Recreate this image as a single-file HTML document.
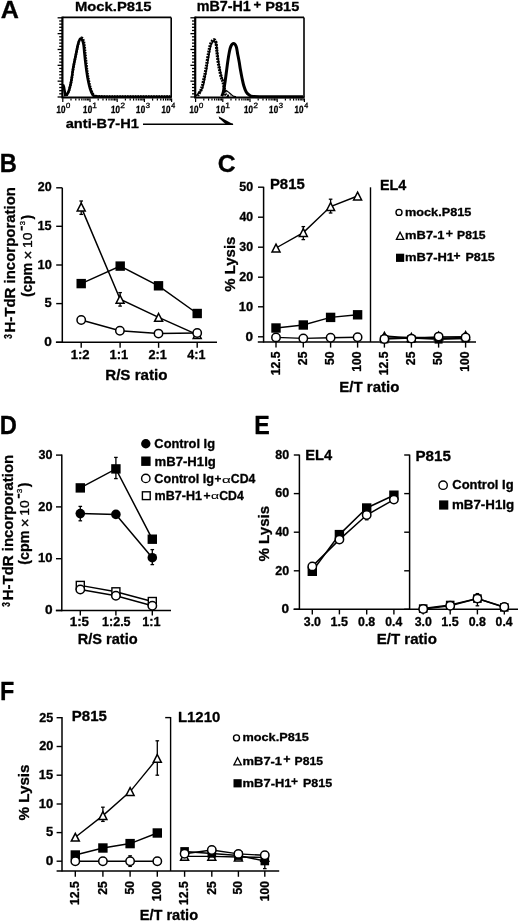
<!DOCTYPE html>
<html><head><meta charset="utf-8"><title>Figure</title>
<style>
html,body{margin:0;padding:0;background:#fff;}
body{width:520px;height:923px;overflow:hidden;}
svg{display:block;filter:grayscale(1);}
text{font-family:"Liberation Sans",sans-serif;fill:#000;stroke:#000;stroke-width:0.3px;stroke-linejoin:round;}
</style></head>
<body>
<svg width="520" height="923" viewBox="0 0 520 923">
<rect x="0" y="0" width="520" height="923" fill="#fff"/>
<g stroke="#000" fill="none" stroke-linecap="butt">
<text transform="translate(0.65,18.35) scale(1.0118,1)" font-size="24.85" font-weight="bold">A</text>
<text transform="translate(74.97,11.12) scale(1.1153,1)" font-size="13.27" font-weight="bold">Mock.P815</text>
<text transform="translate(196.72,11.25) scale(1.0283,1)" font-size="13.95" font-weight="bold">mB7-H1</text>
<line x1="253.90" y1="4.65" x2="260.80" y2="4.65" stroke-width="1.8"/>
<line x1="257.35" y1="1.50" x2="257.35" y2="7.80" stroke-width="1.8"/>
<text transform="translate(265.19,11.11) scale(1.0757,1)" font-size="13.56" font-weight="bold">P815</text>
<line x1="62.40" y1="17.40" x2="171.20" y2="17.40" stroke-width="1.6"/>
<line x1="171.20" y1="17.40" x2="171.20" y2="97.50" stroke-width="1.6"/>
<line x1="62.40" y1="16.60" x2="62.40" y2="98.40" stroke-width="2.2"/>
<line x1="61.90" y1="97.50" x2="171.70" y2="97.50" stroke-width="2.2"/>
<line x1="57.60" y1="17.80" x2="62.40" y2="17.80" stroke-width="1.3"/>
<line x1="59.20" y1="20.97" x2="62.40" y2="20.97" stroke-width="1.3"/>
<line x1="59.20" y1="24.14" x2="62.40" y2="24.14" stroke-width="1.3"/>
<line x1="59.20" y1="27.30" x2="62.40" y2="27.30" stroke-width="1.3"/>
<line x1="59.20" y1="30.47" x2="62.40" y2="30.47" stroke-width="1.3"/>
<line x1="57.60" y1="33.64" x2="62.40" y2="33.64" stroke-width="1.3"/>
<line x1="59.20" y1="36.81" x2="62.40" y2="36.81" stroke-width="1.3"/>
<line x1="59.20" y1="39.98" x2="62.40" y2="39.98" stroke-width="1.3"/>
<line x1="59.20" y1="43.14" x2="62.40" y2="43.14" stroke-width="1.3"/>
<line x1="59.20" y1="46.31" x2="62.40" y2="46.31" stroke-width="1.3"/>
<line x1="57.60" y1="49.48" x2="62.40" y2="49.48" stroke-width="1.3"/>
<line x1="59.20" y1="52.65" x2="62.40" y2="52.65" stroke-width="1.3"/>
<line x1="59.20" y1="55.82" x2="62.40" y2="55.82" stroke-width="1.3"/>
<line x1="59.20" y1="58.98" x2="62.40" y2="58.98" stroke-width="1.3"/>
<line x1="59.20" y1="62.15" x2="62.40" y2="62.15" stroke-width="1.3"/>
<line x1="57.60" y1="65.32" x2="62.40" y2="65.32" stroke-width="1.3"/>
<line x1="59.20" y1="68.49" x2="62.40" y2="68.49" stroke-width="1.3"/>
<line x1="59.20" y1="71.66" x2="62.40" y2="71.66" stroke-width="1.3"/>
<line x1="59.20" y1="74.82" x2="62.40" y2="74.82" stroke-width="1.3"/>
<line x1="59.20" y1="77.99" x2="62.40" y2="77.99" stroke-width="1.3"/>
<line x1="57.60" y1="81.16" x2="62.40" y2="81.16" stroke-width="1.3"/>
<line x1="59.20" y1="84.33" x2="62.40" y2="84.33" stroke-width="1.3"/>
<line x1="59.20" y1="87.50" x2="62.40" y2="87.50" stroke-width="1.3"/>
<line x1="59.20" y1="90.66" x2="62.40" y2="90.66" stroke-width="1.3"/>
<line x1="59.20" y1="93.83" x2="62.40" y2="93.83" stroke-width="1.3"/>
<line x1="57.60" y1="97.00" x2="62.40" y2="97.00" stroke-width="1.3"/>
<line x1="62.80" y1="98.40" x2="62.80" y2="101.90" stroke-width="1.2"/>
<line x1="70.99" y1="98.40" x2="70.99" y2="100.60" stroke-width="1.2"/>
<line x1="75.78" y1="98.40" x2="75.78" y2="100.60" stroke-width="1.2"/>
<line x1="79.18" y1="98.40" x2="79.18" y2="100.60" stroke-width="1.2"/>
<line x1="81.81" y1="98.40" x2="81.81" y2="100.60" stroke-width="1.2"/>
<line x1="83.97" y1="98.40" x2="83.97" y2="100.60" stroke-width="1.2"/>
<line x1="85.79" y1="98.40" x2="85.79" y2="100.60" stroke-width="1.2"/>
<line x1="87.36" y1="98.40" x2="87.36" y2="100.60" stroke-width="1.2"/>
<line x1="88.76" y1="98.40" x2="88.76" y2="100.60" stroke-width="1.2"/>
<line x1="90.00" y1="98.40" x2="90.00" y2="101.90" stroke-width="1.2"/>
<line x1="98.19" y1="98.40" x2="98.19" y2="100.60" stroke-width="1.2"/>
<line x1="102.98" y1="98.40" x2="102.98" y2="100.60" stroke-width="1.2"/>
<line x1="106.38" y1="98.40" x2="106.38" y2="100.60" stroke-width="1.2"/>
<line x1="109.01" y1="98.40" x2="109.01" y2="100.60" stroke-width="1.2"/>
<line x1="111.17" y1="98.40" x2="111.17" y2="100.60" stroke-width="1.2"/>
<line x1="112.99" y1="98.40" x2="112.99" y2="100.60" stroke-width="1.2"/>
<line x1="114.56" y1="98.40" x2="114.56" y2="100.60" stroke-width="1.2"/>
<line x1="115.96" y1="98.40" x2="115.96" y2="100.60" stroke-width="1.2"/>
<line x1="117.20" y1="98.40" x2="117.20" y2="101.90" stroke-width="1.2"/>
<line x1="125.39" y1="98.40" x2="125.39" y2="100.60" stroke-width="1.2"/>
<line x1="130.18" y1="98.40" x2="130.18" y2="100.60" stroke-width="1.2"/>
<line x1="133.58" y1="98.40" x2="133.58" y2="100.60" stroke-width="1.2"/>
<line x1="136.21" y1="98.40" x2="136.21" y2="100.60" stroke-width="1.2"/>
<line x1="138.37" y1="98.40" x2="138.37" y2="100.60" stroke-width="1.2"/>
<line x1="140.19" y1="98.40" x2="140.19" y2="100.60" stroke-width="1.2"/>
<line x1="141.76" y1="98.40" x2="141.76" y2="100.60" stroke-width="1.2"/>
<line x1="143.16" y1="98.40" x2="143.16" y2="100.60" stroke-width="1.2"/>
<line x1="144.40" y1="98.40" x2="144.40" y2="101.90" stroke-width="1.2"/>
<line x1="152.59" y1="98.40" x2="152.59" y2="100.60" stroke-width="1.2"/>
<line x1="157.38" y1="98.40" x2="157.38" y2="100.60" stroke-width="1.2"/>
<line x1="160.78" y1="98.40" x2="160.78" y2="100.60" stroke-width="1.2"/>
<line x1="163.41" y1="98.40" x2="163.41" y2="100.60" stroke-width="1.2"/>
<line x1="165.57" y1="98.40" x2="165.57" y2="100.60" stroke-width="1.2"/>
<line x1="167.39" y1="98.40" x2="167.39" y2="100.60" stroke-width="1.2"/>
<line x1="168.96" y1="98.40" x2="168.96" y2="100.60" stroke-width="1.2"/>
<line x1="170.36" y1="98.40" x2="170.36" y2="100.60" stroke-width="1.2"/>
<line x1="171.60" y1="98.40" x2="171.60" y2="101.90" stroke-width="1.2"/>
<text transform="translate(56.24,113.35) skewX(-3) scale(0.7862,1)" font-size="10.45" font-weight="bold">10</text>
<text transform="translate(65.84,108.18) skewX(-3) scale(1.0598,1)" font-size="7.49" font-weight="normal">0</text>
<text transform="translate(82.84,113.35) skewX(-3) scale(0.7862,1)" font-size="10.45" font-weight="bold">10</text>
<text transform="translate(92.08,108.25) skewX(-3) scale(1.1419,1)" font-size="7.70" font-weight="normal">1</text>
<text transform="translate(110.64,113.35) skewX(-3) scale(0.7862,1)" font-size="10.45" font-weight="bold">10</text>
<text transform="translate(120.13,108.25) skewX(-3) scale(1.0975,1)" font-size="7.59" font-weight="normal">2</text>
<text transform="translate(135.84,113.35) skewX(-3) scale(0.7862,1)" font-size="10.45" font-weight="bold">10</text>
<text transform="translate(145.45,108.18) skewX(-3) scale(1.0687,1)" font-size="7.49" font-weight="normal">3</text>
<text transform="translate(161.14,113.35) skewX(-3) scale(0.7862,1)" font-size="10.45" font-weight="bold">10</text>
<text transform="translate(170.88,108.25) skewX(-3) scale(0.9768,1)" font-size="7.70" font-weight="normal">4</text>
<line x1="195.20" y1="17.40" x2="304.00" y2="17.40" stroke-width="1.6"/>
<line x1="304.00" y1="17.40" x2="304.00" y2="97.50" stroke-width="1.6"/>
<line x1="195.20" y1="16.60" x2="195.20" y2="98.40" stroke-width="2.2"/>
<line x1="194.70" y1="97.50" x2="304.50" y2="97.50" stroke-width="2.2"/>
<line x1="190.40" y1="17.80" x2="195.20" y2="17.80" stroke-width="1.3"/>
<line x1="192.00" y1="20.97" x2="195.20" y2="20.97" stroke-width="1.3"/>
<line x1="192.00" y1="24.14" x2="195.20" y2="24.14" stroke-width="1.3"/>
<line x1="192.00" y1="27.30" x2="195.20" y2="27.30" stroke-width="1.3"/>
<line x1="192.00" y1="30.47" x2="195.20" y2="30.47" stroke-width="1.3"/>
<line x1="190.40" y1="33.64" x2="195.20" y2="33.64" stroke-width="1.3"/>
<line x1="192.00" y1="36.81" x2="195.20" y2="36.81" stroke-width="1.3"/>
<line x1="192.00" y1="39.98" x2="195.20" y2="39.98" stroke-width="1.3"/>
<line x1="192.00" y1="43.14" x2="195.20" y2="43.14" stroke-width="1.3"/>
<line x1="192.00" y1="46.31" x2="195.20" y2="46.31" stroke-width="1.3"/>
<line x1="190.40" y1="49.48" x2="195.20" y2="49.48" stroke-width="1.3"/>
<line x1="192.00" y1="52.65" x2="195.20" y2="52.65" stroke-width="1.3"/>
<line x1="192.00" y1="55.82" x2="195.20" y2="55.82" stroke-width="1.3"/>
<line x1="192.00" y1="58.98" x2="195.20" y2="58.98" stroke-width="1.3"/>
<line x1="192.00" y1="62.15" x2="195.20" y2="62.15" stroke-width="1.3"/>
<line x1="190.40" y1="65.32" x2="195.20" y2="65.32" stroke-width="1.3"/>
<line x1="192.00" y1="68.49" x2="195.20" y2="68.49" stroke-width="1.3"/>
<line x1="192.00" y1="71.66" x2="195.20" y2="71.66" stroke-width="1.3"/>
<line x1="192.00" y1="74.82" x2="195.20" y2="74.82" stroke-width="1.3"/>
<line x1="192.00" y1="77.99" x2="195.20" y2="77.99" stroke-width="1.3"/>
<line x1="190.40" y1="81.16" x2="195.20" y2="81.16" stroke-width="1.3"/>
<line x1="192.00" y1="84.33" x2="195.20" y2="84.33" stroke-width="1.3"/>
<line x1="192.00" y1="87.50" x2="195.20" y2="87.50" stroke-width="1.3"/>
<line x1="192.00" y1="90.66" x2="195.20" y2="90.66" stroke-width="1.3"/>
<line x1="192.00" y1="93.83" x2="195.20" y2="93.83" stroke-width="1.3"/>
<line x1="190.40" y1="97.00" x2="195.20" y2="97.00" stroke-width="1.3"/>
<line x1="195.60" y1="98.40" x2="195.60" y2="101.90" stroke-width="1.2"/>
<line x1="203.79" y1="98.40" x2="203.79" y2="100.60" stroke-width="1.2"/>
<line x1="208.58" y1="98.40" x2="208.58" y2="100.60" stroke-width="1.2"/>
<line x1="211.98" y1="98.40" x2="211.98" y2="100.60" stroke-width="1.2"/>
<line x1="214.61" y1="98.40" x2="214.61" y2="100.60" stroke-width="1.2"/>
<line x1="216.77" y1="98.40" x2="216.77" y2="100.60" stroke-width="1.2"/>
<line x1="218.59" y1="98.40" x2="218.59" y2="100.60" stroke-width="1.2"/>
<line x1="220.16" y1="98.40" x2="220.16" y2="100.60" stroke-width="1.2"/>
<line x1="221.56" y1="98.40" x2="221.56" y2="100.60" stroke-width="1.2"/>
<line x1="222.80" y1="98.40" x2="222.80" y2="101.90" stroke-width="1.2"/>
<line x1="230.99" y1="98.40" x2="230.99" y2="100.60" stroke-width="1.2"/>
<line x1="235.78" y1="98.40" x2="235.78" y2="100.60" stroke-width="1.2"/>
<line x1="239.18" y1="98.40" x2="239.18" y2="100.60" stroke-width="1.2"/>
<line x1="241.81" y1="98.40" x2="241.81" y2="100.60" stroke-width="1.2"/>
<line x1="243.97" y1="98.40" x2="243.97" y2="100.60" stroke-width="1.2"/>
<line x1="245.79" y1="98.40" x2="245.79" y2="100.60" stroke-width="1.2"/>
<line x1="247.36" y1="98.40" x2="247.36" y2="100.60" stroke-width="1.2"/>
<line x1="248.76" y1="98.40" x2="248.76" y2="100.60" stroke-width="1.2"/>
<line x1="250.00" y1="98.40" x2="250.00" y2="101.90" stroke-width="1.2"/>
<line x1="258.19" y1="98.40" x2="258.19" y2="100.60" stroke-width="1.2"/>
<line x1="262.98" y1="98.40" x2="262.98" y2="100.60" stroke-width="1.2"/>
<line x1="266.38" y1="98.40" x2="266.38" y2="100.60" stroke-width="1.2"/>
<line x1="269.01" y1="98.40" x2="269.01" y2="100.60" stroke-width="1.2"/>
<line x1="271.17" y1="98.40" x2="271.17" y2="100.60" stroke-width="1.2"/>
<line x1="272.99" y1="98.40" x2="272.99" y2="100.60" stroke-width="1.2"/>
<line x1="274.56" y1="98.40" x2="274.56" y2="100.60" stroke-width="1.2"/>
<line x1="275.96" y1="98.40" x2="275.96" y2="100.60" stroke-width="1.2"/>
<line x1="277.20" y1="98.40" x2="277.20" y2="101.90" stroke-width="1.2"/>
<line x1="285.39" y1="98.40" x2="285.39" y2="100.60" stroke-width="1.2"/>
<line x1="290.18" y1="98.40" x2="290.18" y2="100.60" stroke-width="1.2"/>
<line x1="293.58" y1="98.40" x2="293.58" y2="100.60" stroke-width="1.2"/>
<line x1="296.21" y1="98.40" x2="296.21" y2="100.60" stroke-width="1.2"/>
<line x1="298.37" y1="98.40" x2="298.37" y2="100.60" stroke-width="1.2"/>
<line x1="300.19" y1="98.40" x2="300.19" y2="100.60" stroke-width="1.2"/>
<line x1="301.76" y1="98.40" x2="301.76" y2="100.60" stroke-width="1.2"/>
<line x1="303.16" y1="98.40" x2="303.16" y2="100.60" stroke-width="1.2"/>
<line x1="304.40" y1="98.40" x2="304.40" y2="101.90" stroke-width="1.2"/>
<text transform="translate(189.24,113.35) skewX(-3) scale(0.7862,1)" font-size="10.45" font-weight="bold">10</text>
<text transform="translate(198.84,108.18) skewX(-3) scale(1.0598,1)" font-size="7.49" font-weight="normal">0</text>
<text transform="translate(215.84,113.35) skewX(-3) scale(0.7862,1)" font-size="10.45" font-weight="bold">10</text>
<text transform="translate(225.08,108.25) skewX(-3) scale(1.1419,1)" font-size="7.70" font-weight="normal">1</text>
<text transform="translate(243.64,113.35) skewX(-3) scale(0.7862,1)" font-size="10.45" font-weight="bold">10</text>
<text transform="translate(253.13,108.25) skewX(-3) scale(1.0975,1)" font-size="7.59" font-weight="normal">2</text>
<text transform="translate(268.84,113.35) skewX(-3) scale(0.7862,1)" font-size="10.45" font-weight="bold">10</text>
<text transform="translate(278.45,108.18) skewX(-3) scale(1.0687,1)" font-size="7.49" font-weight="normal">3</text>
<text transform="translate(294.14,113.35) skewX(-3) scale(0.7862,1)" font-size="10.45" font-weight="bold">10</text>
<text transform="translate(303.88,108.25) skewX(-3) scale(0.9768,1)" font-size="7.70" font-weight="normal">4</text>
<text transform="translate(65.73,127.92) scale(1.0968,1)" font-size="13.33" font-weight="bold">anti-B7-H1</text>
<line x1="143.00" y1="124.20" x2="233.00" y2="124.20" stroke-width="1.5"/>
<polygon points="218.6,116.2 233.6,124.6 226.0,124.4 219.2,118.2" stroke="none" fill="#000"/>
<path d="M62.80,84.50 C62.97,84.83 63.43,85.08 63.80,86.50 C64.17,87.92 64.57,91.58 65.00,93.00 C65.43,94.42 65.80,95.25 66.40,95.00 C67.00,94.75 67.97,93.00 68.60,91.50 C69.23,90.00 69.70,88.08 70.20,86.00 C70.70,83.92 71.12,81.92 71.60,79.00 C72.08,76.08 72.60,71.53 73.10,68.50 C73.60,65.47 74.08,63.38 74.60,60.80 C75.12,58.22 75.73,55.30 76.20,53.00 C76.67,50.70 76.97,48.90 77.40,47.00 C77.83,45.10 78.27,43.00 78.80,41.60 C79.33,40.20 80.00,38.80 80.60,38.60 C81.20,38.40 81.90,39.33 82.40,40.40 C82.90,41.47 83.27,42.90 83.60,45.00 C83.93,47.10 84.10,50.12 84.40,53.00 C84.70,55.88 85.03,59.22 85.40,62.30 C85.77,65.38 86.17,68.55 86.60,71.50 C87.03,74.45 87.43,77.17 88.00,80.00 C88.57,82.83 89.23,86.07 90.00,88.50 C90.77,90.93 91.60,93.28 92.60,94.60 C93.60,95.92 93.10,96.03 96.00,96.40 C98.90,96.77 102.67,96.73 110.00,96.80 C117.33,96.87 129.83,96.80 140.00,96.80 C150.17,96.80 165.83,96.80 171.00,96.80" fill="none" stroke-width="2.6"/>
<path d="M64.00,95.00 C64.40,95.07 65.60,96.07 66.40,95.40 C67.20,94.73 68.13,92.65 68.80,91.00 C69.47,89.35 69.90,87.58 70.40,85.50 C70.90,83.42 71.32,81.42 71.80,78.50 C72.28,75.58 72.80,71.05 73.30,68.00 C73.80,64.95 74.28,62.80 74.80,60.20 C75.32,57.60 75.92,54.70 76.40,52.40 C76.88,50.10 77.23,48.30 77.70,46.40 C78.17,44.50 78.58,42.43 79.20,41.00 C79.82,39.57 80.73,38.00 81.40,37.80 C82.07,37.60 82.70,38.67 83.20,39.80 C83.70,40.93 84.07,42.47 84.40,44.60 C84.73,46.73 84.90,49.70 85.20,52.60 C85.50,55.50 85.87,58.93 86.20,62.00 C86.53,65.07 86.80,68.07 87.20,71.00 C87.60,73.93 88.03,76.73 88.60,79.60 C89.17,82.47 89.80,85.70 90.60,88.20 C91.40,90.70 92.33,93.27 93.40,94.60 C94.47,95.93 92.57,95.87 97.00,96.20 C101.43,96.53 107.83,96.53 120.00,96.60 C132.17,96.67 161.67,96.60 170.00,96.60" fill="none" stroke-width="2.6" stroke-dasharray="1.6 1.0"/>
<path d="M197.60,95.80 C198.25,94.63 200.47,91.50 201.50,88.80 C202.53,86.10 203.10,82.67 203.80,79.60 C204.50,76.53 205.13,73.47 205.70,70.40 C206.27,67.33 206.68,64.28 207.20,61.20 C207.72,58.12 208.28,54.60 208.80,51.90 C209.32,49.20 209.73,46.78 210.30,45.00 C210.87,43.22 211.55,42.07 212.20,41.20 C212.85,40.33 213.57,39.55 214.20,39.80 C214.83,40.05 215.57,40.93 216.00,42.70 C216.43,44.47 216.53,47.85 216.80,50.40 C217.07,52.95 217.27,55.43 217.60,58.00 C217.93,60.57 218.40,63.47 218.80,65.80 C219.20,68.13 219.55,69.97 220.00,72.00 C220.45,74.03 221.00,76.33 221.50,78.00 C222.00,79.67 222.52,80.20 223.00,82.00 C223.48,83.80 223.90,86.63 224.40,88.80 C224.90,90.97 225.07,93.70 226.00,95.00 C226.93,96.30 229.33,96.33 230.00,96.60" fill="none" stroke-width="3.2" stroke-dasharray="1.9 0.9"/>
<path d="M196.20,96.00 C196.75,95.33 198.45,93.33 199.50,92.00 C200.55,90.67 201.65,90.17 202.50,88.00 C203.35,85.83 203.95,82.00 204.60,79.00 C205.25,76.00 205.85,73.00 206.40,70.00 C206.95,67.00 207.40,64.00 207.90,61.00 C208.40,58.00 208.88,54.67 209.40,52.00 C209.92,49.33 210.40,46.75 211.00,45.00 C211.60,43.25 212.40,42.17 213.00,41.50 C213.60,40.83 214.03,40.42 214.60,41.00 C215.17,41.58 215.93,43.00 216.40,45.00 C216.87,47.00 217.07,50.33 217.40,53.00 C217.73,55.67 218.00,58.33 218.40,61.00 C218.80,63.67 219.28,66.42 219.80,69.00 C220.32,71.58 220.97,74.50 221.50,76.50 C222.03,78.50 222.75,80.25 223.00,81.00" fill="none" stroke-width="1.5"/>
<path d="M221.50,95.80 C221.95,95.07 223.42,92.27 224.20,91.40 C224.98,90.53 225.37,90.38 226.20,90.60 C227.03,90.82 228.07,91.80 229.20,92.70 C230.33,93.60 231.87,95.35 233.00,96.00 C234.13,96.65 235.50,96.50 236.00,96.60" fill="none" stroke-width="1.2"/>
<path d="M221.60,96.20 C221.85,95.67 222.60,94.87 223.10,93.00 C223.60,91.13 224.08,88.25 224.60,85.00 C225.12,81.75 225.68,77.33 226.20,73.50 C226.72,69.67 227.20,65.47 227.70,62.00 C228.20,58.53 228.68,55.28 229.20,52.70 C229.72,50.12 230.08,48.02 230.80,46.50 C231.52,44.98 232.60,43.60 233.50,43.60 C234.40,43.60 235.50,44.73 236.20,46.50 C236.90,48.27 237.20,51.62 237.70,54.20 C238.20,56.78 238.75,59.43 239.20,62.00 C239.65,64.57 239.93,66.93 240.40,69.60 C240.87,72.27 241.43,75.30 242.00,78.00 C242.57,80.70 243.10,83.47 243.80,85.80 C244.50,88.13 245.30,90.47 246.20,92.00 C247.10,93.53 248.07,94.27 249.20,95.00 C250.33,95.73 249.53,96.10 253.00,96.40 C256.47,96.70 261.67,96.73 270.00,96.80 C278.33,96.87 297.50,96.80 303.00,96.80" fill="none" stroke-width="3.0"/>
<text transform="translate(-0.22,171.85) scale(0.9330,1)" font-size="25.44" font-weight="bold">B</text>
<text transform="translate(12.24,338.83) rotate(-90) scale(0.8091,1)" font-size="10.16" font-weight="bold">3</text>
<text transform="translate(14.50,332.49) rotate(-90) scale(1.0121,1)" font-size="14.8" font-weight="bold">H-TdR incorporation</text>
<text transform="translate(32.30,296.90) rotate(-90) scale(0.9536,1)" font-size="15.0" font-weight="bold">(cpm</text>
<text transform="translate(33.28,259.50) rotate(-90) scale(1.0149,1)" font-size="14.99" font-weight="normal">×</text>
<text transform="translate(31.92,248.01) rotate(-90) scale(1.0603,1)" font-size="13.14" font-weight="normal">10</text>
<text transform="translate(29.18,230.82) rotate(-90) scale(0.3881,1)" font-size="22.22" font-weight="normal">−</text>
<text transform="translate(25.17,225.24) rotate(-90) scale(0.9414,1)" font-size="8.05" font-weight="normal">3</text>
<text transform="translate(32.30,219.51) rotate(-90) scale(0.9187,1)" font-size="15.0" font-weight="bold">)</text>
<line x1="62.30" y1="187.80" x2="62.30" y2="343.00" stroke-width="1.5"/>
<line x1="55.90" y1="342.30" x2="217.00" y2="342.30" stroke-width="1.5"/>
<line x1="56.20" y1="342.30" x2="62.30" y2="342.30" stroke-width="1.4"/>
<text transform="translate(44.27,345.90) scale(1.0989,1)" font-size="12.4" font-weight="bold">0</text>
<line x1="56.20" y1="303.60" x2="62.30" y2="303.60" stroke-width="1.4"/>
<text transform="translate(44.41,307.20) scale(1.0505,1)" font-size="12.4" font-weight="bold">5</text>
<line x1="56.20" y1="265.00" x2="62.30" y2="265.00" stroke-width="1.4"/>
<text transform="translate(37.50,268.60) scale(1.0380,1)" font-size="12.4" font-weight="bold">10</text>
<line x1="56.20" y1="226.30" x2="62.30" y2="226.30" stroke-width="1.4"/>
<text transform="translate(37.51,229.90) scale(1.0248,1)" font-size="12.4" font-weight="bold">15</text>
<line x1="56.20" y1="187.80" x2="62.30" y2="187.80" stroke-width="1.4"/>
<text transform="translate(37.87,191.40) scale(1.0100,1)" font-size="12.4" font-weight="bold">20</text>
<line x1="81.20" y1="342.30" x2="81.20" y2="347.80" stroke-width="1.4"/>
<text transform="translate(70.69,359.30) scale(1.0647,1)" font-size="12.3" font-weight="bold">1:2</text>
<line x1="120.10" y1="342.30" x2="120.10" y2="347.80" stroke-width="1.4"/>
<text transform="translate(109.60,359.30) scale(1.0552,1)" font-size="12.3" font-weight="bold">1:1</text>
<line x1="158.60" y1="342.30" x2="158.60" y2="347.80" stroke-width="1.4"/>
<text transform="translate(148.47,359.30) scale(1.0339,1)" font-size="12.3" font-weight="bold">2:1</text>
<line x1="197.20" y1="342.30" x2="197.20" y2="347.80" stroke-width="1.4"/>
<text transform="translate(187.31,359.30) scale(1.0199,1)" font-size="12.3" font-weight="bold">4:1</text>
<text transform="translate(105.20,380.00) scale(1.0116,1)" font-size="15.0" font-weight="bold">R/S ratio</text>
<polyline points="81.20,207.10 120.10,299.30 158.60,317.40 197.20,334.60" fill="none" stroke-width="1.5"/>
<polyline points="81.20,283.60 120.20,266.10 158.50,285.80 197.20,313.50" fill="none" stroke-width="1.5"/>
<polyline points="81.20,320.00 119.90,330.80 158.50,333.60 197.20,333.00" fill="none" stroke-width="1.5"/>
<line x1="81.20" y1="201.00" x2="81.20" y2="214.40" stroke-width="1.3"/>
<line x1="79.40" y1="201.00" x2="83.00" y2="201.00" stroke-width="1.3"/>
<line x1="79.40" y1="214.40" x2="83.00" y2="214.40" stroke-width="1.3"/>
<line x1="120.10" y1="292.60" x2="120.10" y2="306.10" stroke-width="1.3"/>
<line x1="118.30" y1="292.60" x2="121.90" y2="292.60" stroke-width="1.3"/>
<line x1="118.30" y1="306.10" x2="121.90" y2="306.10" stroke-width="1.3"/>
<polygon points="197.20,330.70 201.20,338.50 193.20,338.50" fill="#fff" stroke-width="1.5" stroke-linejoin="miter"/>
<rect x="76.50" y="278.90" width="9.40" height="9.40" stroke="none" fill="#000"/>
<rect x="115.50" y="261.40" width="9.40" height="9.40" stroke="none" fill="#000"/>
<rect x="153.80" y="281.10" width="9.40" height="9.40" stroke="none" fill="#000"/>
<rect x="192.50" y="308.80" width="9.40" height="9.40" stroke="none" fill="#000"/>
<polygon points="81.20,203.20 85.20,211.00 77.20,211.00" fill="#fff" stroke-width="1.5" stroke-linejoin="miter"/>
<polygon points="120.10,295.40 124.10,303.20 116.10,303.20" fill="#fff" stroke-width="1.5" stroke-linejoin="miter"/>
<polygon points="158.60,313.50 162.60,321.30 154.60,321.30" fill="#fff" stroke-width="1.5" stroke-linejoin="miter"/>
<circle cx="81.20" cy="320.00" r="4.2" fill="#fff" stroke-width="1.5"/>
<circle cx="119.90" cy="330.80" r="4.2" fill="#fff" stroke-width="1.5"/>
<circle cx="158.50" cy="333.60" r="4.2" fill="#fff" stroke-width="1.5"/>
<circle cx="197.20" cy="333.00" r="4.2" fill="#fff" stroke-width="1.5"/>
<text transform="translate(217.83,171.71) scale(1.0316,1)" font-size="24.01" font-weight="bold">C</text>
<line x1="263.60" y1="186.80" x2="263.60" y2="342.60" stroke-width="1.5"/>
<line x1="257.80" y1="342.00" x2="476.00" y2="342.00" stroke-width="1.5"/>
<line x1="370.50" y1="187.30" x2="370.50" y2="342.00" stroke-width="1.4"/>
<line x1="258.00" y1="336.80" x2="263.60" y2="336.80" stroke-width="1.4"/>
<text transform="translate(245.57,340.60) scale(1.0989,1)" font-size="12.4" font-weight="bold">0</text>
<line x1="258.00" y1="306.80" x2="263.60" y2="306.80" stroke-width="1.4"/>
<text transform="translate(238.80,310.60) scale(1.0380,1)" font-size="12.4" font-weight="bold">10</text>
<line x1="258.00" y1="277.20" x2="263.60" y2="277.20" stroke-width="1.4"/>
<text transform="translate(239.17,281.00) scale(1.0100,1)" font-size="12.4" font-weight="bold">20</text>
<line x1="258.00" y1="247.20" x2="263.60" y2="247.20" stroke-width="1.4"/>
<text transform="translate(239.33,251.00)" font-size="12.4" font-weight="bold">30</text>
<line x1="258.00" y1="217.20" x2="263.60" y2="217.20" stroke-width="1.4"/>
<text transform="translate(239.42,221.00) scale(0.9919,1)" font-size="12.4" font-weight="bold">40</text>
<line x1="258.00" y1="187.20" x2="263.60" y2="187.20" stroke-width="1.4"/>
<text transform="translate(239.23,191.00) scale(1.0061,1)" font-size="12.4" font-weight="bold">50</text>
<text transform="translate(235.40,291.76) rotate(-90) scale(0.9973,1)" font-size="15.0" font-weight="bold">% Lysis</text>
<text transform="translate(269.92,189.30) scale(0.9932,1)" font-size="15.0" font-weight="bold">P815</text>
<text transform="translate(379.95,189.50) scale(0.9567,1)" font-size="15.0" font-weight="bold">EL4</text>
<line x1="276.00" y1="342.00" x2="276.00" y2="347.60" stroke-width="1.4"/>
<line x1="303.30" y1="342.00" x2="303.30" y2="347.60" stroke-width="1.4"/>
<line x1="330.60" y1="342.00" x2="330.60" y2="347.60" stroke-width="1.4"/>
<line x1="357.60" y1="342.00" x2="357.60" y2="347.60" stroke-width="1.4"/>
<line x1="384.40" y1="342.00" x2="384.40" y2="347.60" stroke-width="1.4"/>
<line x1="411.40" y1="342.00" x2="411.40" y2="347.60" stroke-width="1.4"/>
<line x1="438.60" y1="342.00" x2="438.60" y2="347.60" stroke-width="1.4"/>
<line x1="465.60" y1="342.00" x2="465.60" y2="347.60" stroke-width="1.4"/>
<text transform="translate(279.80,375.31) rotate(-90)" font-size="12.2" font-weight="bold">12.5</text>
<text transform="translate(307.10,365.14) rotate(-90)" font-size="12.2" font-weight="bold">25</text>
<text transform="translate(334.40,364.98) rotate(-90)" font-size="12.2" font-weight="bold">50</text>
<text transform="translate(361.40,371.76) rotate(-90)" font-size="12.2" font-weight="bold">100</text>
<text transform="translate(388.20,375.31) rotate(-90)" font-size="12.2" font-weight="bold">12.5</text>
<text transform="translate(415.20,365.14) rotate(-90)" font-size="12.2" font-weight="bold">25</text>
<text transform="translate(442.40,364.98) rotate(-90)" font-size="12.2" font-weight="bold">50</text>
<text transform="translate(469.40,371.76) rotate(-90)" font-size="12.2" font-weight="bold">100</text>
<text transform="translate(339.31,392.10)" font-size="15.0" font-weight="bold">E/T ratio</text>
<circle cx="399.00" cy="212.40" r="3.0" fill="#fff" stroke-width="1.4"/>
<text transform="translate(405.02,215.74) scale(1.1385,1)" font-size="11.16" font-weight="bold">mock.P815</text>
<polygon points="400.10,232.20 403.80,239.40 396.40,239.40" fill="#fff" stroke-width="1.3" stroke-linejoin="miter"/>
<text transform="translate(405.11,239.15) scale(1.1250,1)" font-size="11.48" font-weight="bold">mB7-1</text>
<line x1="446.10" y1="233.50" x2="452.70" y2="233.50" stroke-width="1.6"/>
<line x1="449.40" y1="230.30" x2="449.40" y2="236.70" stroke-width="1.6"/>
<text transform="translate(457.05,239.04) scale(1.0913,1)" font-size="11.16" font-weight="bold">P815</text>
<rect x="396.00" y="253.70" width="8.20" height="8.20" stroke="none" fill="#000"/>
<text transform="translate(405.11,261.45) scale(1.1126,1)" font-size="11.63" font-weight="bold">mB7-H1</text>
<line x1="453.80" y1="255.80" x2="460.20" y2="255.80" stroke-width="1.6"/>
<line x1="457.00" y1="252.60" x2="457.00" y2="259.00" stroke-width="1.6"/>
<text transform="translate(465.52,261.34) scale(1.1092,1)" font-size="11.30" font-weight="bold">P815</text>
<polyline points="276.00,248.00 303.30,232.60 330.60,206.60 357.60,196.00" fill="none" stroke-width="1.4"/>
<polyline points="276.00,328.00 303.30,325.00 330.60,317.40 357.60,314.80" fill="none" stroke-width="1.4"/>
<polyline points="276.00,337.40 303.30,338.40 330.60,337.80 357.60,337.20" fill="none" stroke-width="1.4"/>
<line x1="303.30" y1="226.60" x2="303.30" y2="239.60" stroke-width="1.3"/>
<line x1="301.50" y1="226.60" x2="305.10" y2="226.60" stroke-width="1.3"/>
<line x1="301.50" y1="239.60" x2="305.10" y2="239.60" stroke-width="1.3"/>
<line x1="330.60" y1="199.20" x2="330.60" y2="213.00" stroke-width="1.3"/>
<line x1="328.80" y1="199.20" x2="332.40" y2="199.20" stroke-width="1.3"/>
<line x1="328.80" y1="213.00" x2="332.40" y2="213.00" stroke-width="1.3"/>
<polygon points="276.00,244.10 280.00,251.90 272.00,251.90" fill="#fff" stroke-width="1.5" stroke-linejoin="miter"/>
<polygon points="303.30,228.70 307.30,236.50 299.30,236.50" fill="#fff" stroke-width="1.5" stroke-linejoin="miter"/>
<polygon points="330.60,202.70 334.60,210.50 326.60,210.50" fill="#fff" stroke-width="1.5" stroke-linejoin="miter"/>
<polygon points="357.60,192.10 361.60,199.90 353.60,199.90" fill="#fff" stroke-width="1.5" stroke-linejoin="miter"/>
<rect x="271.30" y="323.30" width="9.40" height="9.40" stroke="none" fill="#000"/>
<rect x="298.60" y="320.30" width="9.40" height="9.40" stroke="none" fill="#000"/>
<rect x="325.90" y="312.70" width="9.40" height="9.40" stroke="none" fill="#000"/>
<rect x="352.90" y="310.10" width="9.40" height="9.40" stroke="none" fill="#000"/>
<circle cx="276.00" cy="337.40" r="4.2" fill="#fff" stroke-width="1.5"/>
<circle cx="303.30" cy="338.40" r="4.2" fill="#fff" stroke-width="1.5"/>
<circle cx="330.60" cy="337.80" r="4.2" fill="#fff" stroke-width="1.5"/>
<circle cx="357.60" cy="337.20" r="4.2" fill="#fff" stroke-width="1.5"/>
<polyline points="384.40,336.00 411.40,338.00 438.60,337.00 465.60,336.60" fill="none" stroke-width="1.4"/>
<polyline points="384.40,338.60 411.40,337.60 438.60,338.80 465.60,338.00" fill="none" stroke-width="2.4"/>
<polygon points="384.40,332.30 388.40,340.10 380.40,340.10" fill="#fff" stroke-width="1.5" stroke-linejoin="miter"/>
<polygon points="411.40,333.50 415.40,341.30 407.40,341.30" fill="#fff" stroke-width="1.5" stroke-linejoin="miter"/>
<polygon points="438.60,332.10 442.60,339.90 434.60,339.90" fill="#fff" stroke-width="1.5" stroke-linejoin="miter"/>
<polygon points="465.60,331.70 469.60,339.50 461.60,339.50" fill="#fff" stroke-width="1.5" stroke-linejoin="miter"/>
<rect x="380.40" y="335.40" width="8.00" height="8.00" stroke="none" fill="#000"/>
<rect x="407.40" y="335.00" width="8.00" height="8.00" stroke="none" fill="#000"/>
<rect x="434.60" y="335.60" width="8.00" height="8.00" stroke="none" fill="#000"/>
<rect x="461.60" y="334.40" width="8.00" height="8.00" stroke="none" fill="#000"/>
<circle cx="384.40" cy="339.00" r="4.2" fill="#fff" stroke-width="1.5"/>
<circle cx="411.40" cy="338.60" r="4.2" fill="#fff" stroke-width="1.5"/>
<circle cx="438.60" cy="336.60" r="4.2" fill="#fff" stroke-width="1.5"/>
<circle cx="465.60" cy="337.40" r="4.2" fill="#fff" stroke-width="1.5"/>
<text transform="translate(-0.32,434.25) scale(0.9228,1)" font-size="25.73" font-weight="bold">D</text>
<line x1="61.80" y1="454.60" x2="61.80" y2="611.20" stroke-width="1.5"/>
<line x1="55.80" y1="610.50" x2="171.00" y2="610.50" stroke-width="1.5"/>
<line x1="56.00" y1="610.50" x2="61.80" y2="610.50" stroke-width="1.4"/>
<text transform="translate(44.97,614.20) scale(1.0989,1)" font-size="12.4" font-weight="bold">0</text>
<line x1="56.00" y1="558.70" x2="61.80" y2="558.70" stroke-width="1.4"/>
<text transform="translate(37.99,562.40) scale(1.0540,1)" font-size="12.4" font-weight="bold">10</text>
<line x1="56.00" y1="506.90" x2="61.80" y2="506.90" stroke-width="1.4"/>
<text transform="translate(38.37,510.60) scale(1.0255,1)" font-size="12.4" font-weight="bold">20</text>
<line x1="56.00" y1="455.10" x2="61.80" y2="455.10" stroke-width="1.4"/>
<text transform="translate(38.52,458.80) scale(1.0138,1)" font-size="12.4" font-weight="bold">30</text>
<line x1="80.30" y1="610.50" x2="80.30" y2="615.60" stroke-width="1.4"/>
<text transform="translate(69.67,626.00) scale(1.0912,1)" font-size="12.3" font-weight="bold">1:5</text>
<line x1="115.90" y1="610.50" x2="115.90" y2="615.60" stroke-width="1.4"/>
<text transform="translate(102.02,626.00) scale(1.0209,1)" font-size="12.3" font-weight="bold">1:2.5</text>
<line x1="152.30" y1="610.50" x2="152.30" y2="615.60" stroke-width="1.4"/>
<text transform="translate(142.31,626.00) scale(1.0312,1)" font-size="12.3" font-weight="bold">1:1</text>
<text transform="translate(77.63,644.30) scale(0.9750,1)" font-size="15.0" font-weight="bold">R/S ratio</text>
<text transform="translate(10.24,606.63) rotate(-90) scale(0.8091,1)" font-size="10.16" font-weight="bold">3</text>
<text transform="translate(12.50,600.29) rotate(-90) scale(1.0121,1)" font-size="14.8" font-weight="bold">H-TdR incorporation</text>
<text transform="translate(29.30,564.70) rotate(-90) scale(0.9536,1)" font-size="15.0" font-weight="bold">(cpm</text>
<text transform="translate(30.28,527.30) rotate(-90) scale(1.0149,1)" font-size="14.99" font-weight="normal">×</text>
<text transform="translate(28.92,515.81) rotate(-90) scale(1.0603,1)" font-size="13.14" font-weight="normal">10</text>
<text transform="translate(26.18,498.62) rotate(-90) scale(0.3881,1)" font-size="22.22" font-weight="normal">−</text>
<text transform="translate(22.17,493.04) rotate(-90) scale(0.9414,1)" font-size="8.05" font-weight="normal">3</text>
<text transform="translate(29.30,487.31) rotate(-90) scale(0.9187,1)" font-size="15.0" font-weight="bold">)</text>
<circle cx="145.80" cy="443.80" r="4.7" stroke="none" fill="#000"/>
<text transform="translate(154.37,448.00) scale(1.0202,1)" font-size="12.6" font-weight="bold">Control Ig</text>
<rect x="141.20" y="456.50" width="9.40" height="9.40" stroke="none" fill="#000"/>
<text transform="translate(154.55,465.80) scale(1.0428,1)" font-size="12.6" font-weight="bold">mB7-H1Ig</text>
<circle cx="145.80" cy="478.40" r="4.2" fill="#fff" stroke-width="1.4"/>
<text transform="translate(154.28,482.60) scale(1.0065,1)" font-size="12.6" font-weight="bold">Control Ig</text>
<line x1="214.80" y1="478.70" x2="221.00" y2="478.70" stroke-width="1.5"/>
<line x1="217.90" y1="475.60" x2="217.90" y2="481.80" stroke-width="1.5"/>
<text transform="translate(222.06,482.60) scale(1.5672,1)" font-size="9.67" font-weight="normal" style="stroke-width:0.1px">α</text>
<text transform="translate(230.80,482.60) scale(0.9748,1)" font-size="12.6" font-weight="bold">CD4</text>
<rect x="142.40" y="491.80" width="7.80" height="7.80" fill="#fff" stroke-width="1.4"/>
<text transform="translate(154.59,499.70) scale(0.9945,1)" font-size="12.6" font-weight="bold">mB7-H1</text>
<line x1="203.80" y1="495.70" x2="210.20" y2="495.70" stroke-width="1.5"/>
<line x1="207.00" y1="492.60" x2="207.00" y2="498.80" stroke-width="1.5"/>
<text transform="translate(211.11,499.31) scale(1.4729,1)" font-size="9.49" font-weight="normal" style="stroke-width:0.1px">α</text>
<text transform="translate(219.20,499.70) scale(0.9748,1)" font-size="12.6" font-weight="bold">CD4</text>
<polyline points="80.30,487.90 115.90,468.90 152.30,539.20" fill="none" stroke-width="1.5"/>
<polyline points="80.30,513.60 115.90,514.40 152.30,557.70" fill="none" stroke-width="1.5"/>
<polyline points="80.30,585.40 115.90,591.80 152.30,601.50" fill="none" stroke-width="1.4"/>
<polyline points="80.30,589.50 115.90,595.80 152.30,605.70" fill="none" stroke-width="1.4"/>
<line x1="115.90" y1="457.40" x2="115.90" y2="478.60" stroke-width="1.3"/>
<line x1="114.10" y1="457.40" x2="117.70" y2="457.40" stroke-width="1.3"/>
<line x1="114.10" y1="478.60" x2="117.70" y2="478.60" stroke-width="1.3"/>
<line x1="80.30" y1="506.40" x2="80.30" y2="520.80" stroke-width="1.3"/>
<line x1="78.50" y1="506.40" x2="82.10" y2="506.40" stroke-width="1.3"/>
<line x1="78.50" y1="520.80" x2="82.10" y2="520.80" stroke-width="1.3"/>
<line x1="152.30" y1="549.60" x2="152.30" y2="564.60" stroke-width="1.3"/>
<line x1="150.50" y1="549.60" x2="154.10" y2="549.60" stroke-width="1.3"/>
<line x1="150.50" y1="564.60" x2="154.10" y2="564.60" stroke-width="1.3"/>
<rect x="75.60" y="483.20" width="9.40" height="9.40" stroke="none" fill="#000"/>
<rect x="111.20" y="464.20" width="9.40" height="9.40" stroke="none" fill="#000"/>
<rect x="147.60" y="534.50" width="9.40" height="9.40" stroke="none" fill="#000"/>
<circle cx="80.30" cy="513.60" r="4.8" stroke="none" fill="#000"/>
<circle cx="115.90" cy="514.40" r="4.8" stroke="none" fill="#000"/>
<circle cx="152.30" cy="557.70" r="4.8" stroke="none" fill="#000"/>
<rect x="76.30" y="581.40" width="8.00" height="8.00" fill="#fff" stroke-width="1.4"/>
<rect x="111.90" y="587.80" width="8.00" height="8.00" fill="#fff" stroke-width="1.4"/>
<rect x="148.30" y="597.50" width="8.00" height="8.00" fill="#fff" stroke-width="1.4"/>
<circle cx="80.30" cy="589.50" r="4.2" fill="#fff" stroke-width="1.5"/>
<circle cx="115.90" cy="595.80" r="4.2" fill="#fff" stroke-width="1.5"/>
<circle cx="152.30" cy="605.70" r="4.2" fill="#fff" stroke-width="1.5"/>
<text transform="translate(254.21,434.25) scale(0.9217,1)" font-size="25.29" font-weight="bold">E</text>
<line x1="299.40" y1="454.60" x2="299.40" y2="610.00" stroke-width="1.5"/>
<line x1="409.60" y1="454.60" x2="409.60" y2="610.00" stroke-width="1.5"/>
<line x1="293.60" y1="609.30" x2="518.00" y2="609.30" stroke-width="1.5"/>
<line x1="293.80" y1="609.30" x2="299.40" y2="609.30" stroke-width="1.4"/>
<line x1="404.20" y1="609.30" x2="409.60" y2="609.30" stroke-width="1.4"/>
<text transform="translate(281.57,613.10) scale(1.0989,1)" font-size="12.4" font-weight="bold">0</text>
<line x1="293.80" y1="570.80" x2="299.40" y2="570.80" stroke-width="1.4"/>
<line x1="404.20" y1="570.80" x2="409.60" y2="570.80" stroke-width="1.4"/>
<text transform="translate(275.17,574.60) scale(1.0100,1)" font-size="12.4" font-weight="bold">20</text>
<line x1="293.80" y1="532.20" x2="299.40" y2="532.20" stroke-width="1.4"/>
<line x1="404.20" y1="532.20" x2="409.60" y2="532.20" stroke-width="1.4"/>
<text transform="translate(275.42,536.00) scale(0.9919,1)" font-size="12.4" font-weight="bold">40</text>
<line x1="293.80" y1="493.60" x2="299.40" y2="493.60" stroke-width="1.4"/>
<line x1="404.20" y1="493.60" x2="409.60" y2="493.60" stroke-width="1.4"/>
<text transform="translate(275.15,497.40) scale(1.0120,1)" font-size="12.4" font-weight="bold">60</text>
<line x1="293.80" y1="455.00" x2="299.40" y2="455.00" stroke-width="1.4"/>
<line x1="404.20" y1="455.00" x2="409.60" y2="455.00" stroke-width="1.4"/>
<text transform="translate(275.21,458.80) scale(1.0071,1)" font-size="12.4" font-weight="bold">80</text>
<text transform="translate(269.00,561.56) rotate(-90) scale(1.0084,1)" font-size="15.0" font-weight="bold">% Lysis</text>
<text transform="translate(305.33,459.50) scale(0.9794,1)" font-size="15.0" font-weight="bold">EL4</text>
<text transform="translate(415.50,461.20) scale(1.0110,1)" font-size="15.0" font-weight="bold">P815</text>
<line x1="312.30" y1="609.30" x2="312.30" y2="614.40" stroke-width="1.4"/>
<text transform="translate(303.83,626.40) scale(1.0040,1)" font-size="12.3" font-weight="bold">3.0</text>
<line x1="339.40" y1="609.30" x2="339.40" y2="614.40" stroke-width="1.4"/>
<text transform="translate(330.42,626.40) scale(1.0249,1)" font-size="12.3" font-weight="bold">1.5</text>
<line x1="366.70" y1="609.30" x2="366.70" y2="614.40" stroke-width="1.4"/>
<text transform="translate(358.02,626.40) scale(1.0093,1)" font-size="12.3" font-weight="bold">0.8</text>
<line x1="393.90" y1="609.30" x2="393.90" y2="614.40" stroke-width="1.4"/>
<text transform="translate(385.22,626.40) scale(0.9906,1)" font-size="12.3" font-weight="bold">0.4</text>
<line x1="423.20" y1="609.30" x2="423.20" y2="614.40" stroke-width="1.4"/>
<text transform="translate(414.73,626.40) scale(1.0040,1)" font-size="12.3" font-weight="bold">3.0</text>
<line x1="450.20" y1="609.30" x2="450.20" y2="614.40" stroke-width="1.4"/>
<text transform="translate(441.22,626.40) scale(1.0249,1)" font-size="12.3" font-weight="bold">1.5</text>
<line x1="477.40" y1="609.30" x2="477.40" y2="614.40" stroke-width="1.4"/>
<text transform="translate(468.72,626.40) scale(1.0093,1)" font-size="12.3" font-weight="bold">0.8</text>
<line x1="504.30" y1="609.30" x2="504.30" y2="614.40" stroke-width="1.4"/>
<text transform="translate(495.62,626.40) scale(0.9906,1)" font-size="12.3" font-weight="bold">0.4</text>
<text transform="translate(376.71,644.30) scale(1.0044,1)" font-size="15.0" font-weight="bold">E/T ratio</text>
<circle cx="443.10" cy="485.20" r="4.2" fill="#fff" stroke-width="1.4"/>
<text transform="translate(452.27,489.40) scale(1.0323,1)" font-size="12.6" font-weight="bold">Control Ig</text>
<rect x="439.10" y="500.40" width="9.20" height="9.20" stroke="none" fill="#000"/>
<text transform="translate(451.93,509.20) scale(1.0586,1)" font-size="12.6" font-weight="bold">mB7-H1Ig</text>
<polyline points="312.30,571.30 339.40,534.60 366.70,508.00 393.90,495.20" fill="none" stroke-width="1.5"/>
<polyline points="312.30,566.40 339.40,539.60 366.70,515.00 393.90,499.60" fill="none" stroke-width="1.5"/>
<line x1="366.70" y1="510.00" x2="366.70" y2="519.80" stroke-width="1.3"/>
<line x1="364.90" y1="510.00" x2="368.50" y2="510.00" stroke-width="1.3"/>
<line x1="364.90" y1="519.80" x2="368.50" y2="519.80" stroke-width="1.3"/>
<rect x="307.60" y="566.60" width="9.40" height="9.40" stroke="none" fill="#000"/>
<rect x="334.70" y="529.90" width="9.40" height="9.40" stroke="none" fill="#000"/>
<rect x="362.00" y="503.30" width="9.40" height="9.40" stroke="none" fill="#000"/>
<rect x="389.20" y="490.50" width="9.40" height="9.40" stroke="none" fill="#000"/>
<circle cx="312.30" cy="566.40" r="4.2" fill="#fff" stroke-width="1.5"/>
<circle cx="339.40" cy="539.60" r="4.2" fill="#fff" stroke-width="1.5"/>
<circle cx="366.70" cy="515.00" r="4.2" fill="#fff" stroke-width="1.5"/>
<circle cx="393.90" cy="499.60" r="4.2" fill="#fff" stroke-width="1.5"/>
<polyline points="423.20,608.60 450.20,605.00 477.40,598.60 504.30,607.40" fill="none" stroke-width="1.5"/>
<polyline points="423.20,609.00 450.20,605.80 477.40,598.60 504.30,607.00" fill="none" stroke-width="1.5"/>
<line x1="477.40" y1="593.60" x2="477.40" y2="605.80" stroke-width="1.3"/>
<line x1="475.60" y1="593.60" x2="479.20" y2="593.60" stroke-width="1.3"/>
<line x1="475.60" y1="605.80" x2="479.20" y2="605.80" stroke-width="1.3"/>
<rect x="418.90" y="604.30" width="8.60" height="8.60" stroke="none" fill="#000"/>
<rect x="445.90" y="600.70" width="8.60" height="8.60" stroke="none" fill="#000"/>
<rect x="473.10" y="594.30" width="8.60" height="8.60" stroke="none" fill="#000"/>
<rect x="500.00" y="603.10" width="8.60" height="8.60" stroke="none" fill="#000"/>
<circle cx="423.20" cy="609.00" r="4.2" fill="#fff" stroke-width="1.5"/>
<circle cx="450.20" cy="605.80" r="4.2" fill="#fff" stroke-width="1.5"/>
<circle cx="477.40" cy="598.60" r="4.2" fill="#fff" stroke-width="1.5"/>
<circle cx="504.30" cy="607.00" r="4.2" fill="#fff" stroke-width="1.5"/>
<text transform="translate(0.01,700.45) scale(0.9406,1)" font-size="24.85" font-weight="bold">F</text>
<line x1="62.00" y1="717.00" x2="62.00" y2="871.60" stroke-width="1.5"/>
<line x1="56.60" y1="871.00" x2="279.20" y2="871.00" stroke-width="1.5"/>
<line x1="170.60" y1="717.00" x2="170.60" y2="871.00" stroke-width="1.4"/>
<line x1="165.20" y1="717.60" x2="170.60" y2="717.60" stroke-width="1.4"/>
<line x1="56.60" y1="861.20" x2="62.00" y2="861.20" stroke-width="1.4"/>
<text transform="translate(45.77,865.00) scale(1.0989,1)" font-size="12.4" font-weight="bold">0</text>
<line x1="56.60" y1="832.60" x2="62.00" y2="832.60" stroke-width="1.4"/>
<text transform="translate(45.91,836.40) scale(1.0505,1)" font-size="12.4" font-weight="bold">5</text>
<line x1="56.60" y1="804.00" x2="62.00" y2="804.00" stroke-width="1.4"/>
<text transform="translate(38.79,807.80) scale(1.0540,1)" font-size="12.4" font-weight="bold">10</text>
<line x1="56.60" y1="775.20" x2="62.00" y2="775.20" stroke-width="1.4"/>
<text transform="translate(38.80,779.00) scale(1.0406,1)" font-size="12.4" font-weight="bold">15</text>
<line x1="56.60" y1="746.50" x2="62.00" y2="746.50" stroke-width="1.4"/>
<text transform="translate(39.17,750.30) scale(1.0255,1)" font-size="12.4" font-weight="bold">20</text>
<line x1="56.60" y1="717.70" x2="62.00" y2="717.70" stroke-width="1.4"/>
<text transform="translate(39.17,721.50) scale(1.0129,1)" font-size="12.4" font-weight="bold">25</text>
<text transform="translate(29.40,820.57) rotate(-90) scale(1.0157,1)" font-size="15.0" font-weight="bold">% Lysis</text>
<text transform="translate(71.81,721.30)" font-size="15.0" font-weight="bold">P815</text>
<text transform="translate(177.91,721.50) scale(0.9967,1)" font-size="15.0" font-weight="bold">L1210</text>
<line x1="75.30" y1="871.00" x2="75.30" y2="876.80" stroke-width="1.4"/>
<line x1="102.90" y1="871.00" x2="102.90" y2="876.80" stroke-width="1.4"/>
<line x1="130.10" y1="871.00" x2="130.10" y2="876.80" stroke-width="1.4"/>
<line x1="157.30" y1="871.00" x2="157.30" y2="876.80" stroke-width="1.4"/>
<line x1="184.60" y1="871.00" x2="184.60" y2="876.80" stroke-width="1.4"/>
<line x1="211.80" y1="871.00" x2="211.80" y2="876.80" stroke-width="1.4"/>
<line x1="238.40" y1="871.00" x2="238.40" y2="876.80" stroke-width="1.4"/>
<line x1="264.80" y1="871.00" x2="264.80" y2="876.80" stroke-width="1.4"/>
<text transform="translate(79.10,904.91) rotate(-90)" font-size="12.2" font-weight="bold">12.5</text>
<text transform="translate(106.70,894.74) rotate(-90)" font-size="12.2" font-weight="bold">25</text>
<text transform="translate(133.90,894.58) rotate(-90)" font-size="12.2" font-weight="bold">50</text>
<text transform="translate(161.10,901.36) rotate(-90)" font-size="12.2" font-weight="bold">100</text>
<text transform="translate(188.40,904.91) rotate(-90)" font-size="12.2" font-weight="bold">12.5</text>
<text transform="translate(215.60,894.74) rotate(-90)" font-size="12.2" font-weight="bold">25</text>
<text transform="translate(242.20,894.58) rotate(-90)" font-size="12.2" font-weight="bold">50</text>
<text transform="translate(268.60,901.36) rotate(-90)" font-size="12.2" font-weight="bold">100</text>
<text transform="translate(139.63,920.40) scale(0.9754,1)" font-size="15.0" font-weight="bold">E/T ratio</text>
<circle cx="236.50" cy="737.90" r="3.0" fill="#fff" stroke-width="1.4"/>
<text transform="translate(242.52,741.24) scale(1.1385,1)" font-size="11.16" font-weight="bold">mock.P815</text>
<polygon points="237.60,757.70 241.30,764.90 233.90,764.90" fill="#fff" stroke-width="1.3" stroke-linejoin="miter"/>
<text transform="translate(242.61,764.65) scale(1.1250,1)" font-size="11.48" font-weight="bold">mB7-1</text>
<line x1="283.60" y1="759.00" x2="290.20" y2="759.00" stroke-width="1.6"/>
<line x1="286.90" y1="755.80" x2="286.90" y2="762.20" stroke-width="1.6"/>
<text transform="translate(294.55,764.54) scale(1.0913,1)" font-size="11.16" font-weight="bold">P815</text>
<rect x="233.50" y="779.20" width="8.20" height="8.20" stroke="none" fill="#000"/>
<text transform="translate(242.61,786.95) scale(1.1126,1)" font-size="11.63" font-weight="bold">mB7-H1</text>
<line x1="291.30" y1="781.30" x2="297.70" y2="781.30" stroke-width="1.6"/>
<line x1="294.50" y1="778.10" x2="294.50" y2="784.50" stroke-width="1.6"/>
<text transform="translate(303.02,786.84) scale(1.1092,1)" font-size="11.30" font-weight="bold">P815</text>
<polyline points="75.30,837.20 102.90,815.60 130.10,791.60 157.30,758.40" fill="none" stroke-width="1.4"/>
<polyline points="75.30,855.00 102.90,848.00 130.10,843.60 157.30,833.00" fill="none" stroke-width="1.5"/>
<polyline points="75.30,861.20 102.90,861.20 130.10,861.20 157.30,861.20" fill="none" stroke-width="1.4"/>
<line x1="102.90" y1="807.20" x2="102.90" y2="821.40" stroke-width="1.3"/>
<line x1="101.10" y1="807.20" x2="104.70" y2="807.20" stroke-width="1.3"/>
<line x1="101.10" y1="821.40" x2="104.70" y2="821.40" stroke-width="1.3"/>
<line x1="157.30" y1="740.80" x2="157.30" y2="775.20" stroke-width="1.3"/>
<line x1="155.50" y1="740.80" x2="159.10" y2="740.80" stroke-width="1.3"/>
<line x1="155.50" y1="775.20" x2="159.10" y2="775.20" stroke-width="1.3"/>
<line x1="130.10" y1="855.80" x2="130.10" y2="866.40" stroke-width="1.3"/>
<line x1="128.30" y1="855.80" x2="131.90" y2="855.80" stroke-width="1.3"/>
<line x1="128.30" y1="866.40" x2="131.90" y2="866.40" stroke-width="1.3"/>
<polygon points="75.30,833.30 79.30,841.10 71.30,841.10" fill="#fff" stroke-width="1.5" stroke-linejoin="miter"/>
<polygon points="102.90,811.70 106.90,819.50 98.90,819.50" fill="#fff" stroke-width="1.5" stroke-linejoin="miter"/>
<polygon points="130.10,787.70 134.10,795.50 126.10,795.50" fill="#fff" stroke-width="1.5" stroke-linejoin="miter"/>
<polygon points="157.30,754.50 161.30,762.30 153.30,762.30" fill="#fff" stroke-width="1.5" stroke-linejoin="miter"/>
<rect x="70.60" y="850.30" width="9.40" height="9.40" stroke="none" fill="#000"/>
<rect x="98.20" y="843.30" width="9.40" height="9.40" stroke="none" fill="#000"/>
<rect x="125.40" y="838.90" width="9.40" height="9.40" stroke="none" fill="#000"/>
<rect x="152.60" y="828.30" width="9.40" height="9.40" stroke="none" fill="#000"/>
<circle cx="75.30" cy="861.20" r="4.2" fill="#fff" stroke-width="1.5"/>
<circle cx="102.90" cy="861.20" r="4.2" fill="#fff" stroke-width="1.5"/>
<circle cx="130.10" cy="861.20" r="4.2" fill="#fff" stroke-width="1.5"/>
<circle cx="157.30" cy="861.20" r="4.2" fill="#fff" stroke-width="1.5"/>
<polyline points="184.60,856.40 211.80,856.40 238.40,857.00 264.80,857.40" fill="none" stroke-width="1.3"/>
<polyline points="184.60,851.40 211.80,853.40 238.40,855.60 264.80,861.00" fill="none" stroke-width="1.5"/>
<polyline points="184.60,853.80 211.80,850.00 238.40,853.90 264.80,855.30" fill="none" stroke-width="1.4"/>
<line x1="264.80" y1="856.00" x2="264.80" y2="868.60" stroke-width="1.3"/>
<line x1="263.00" y1="856.00" x2="266.60" y2="856.00" stroke-width="1.3"/>
<line x1="263.00" y1="868.60" x2="266.60" y2="868.60" stroke-width="1.3"/>
<polygon points="184.60,852.50 188.60,860.30 180.60,860.30" fill="#fff" stroke-width="1.5" stroke-linejoin="miter"/>
<polygon points="211.80,852.50 215.80,860.30 207.80,860.30" fill="#fff" stroke-width="1.5" stroke-linejoin="miter"/>
<polygon points="238.40,853.10 242.40,860.90 234.40,860.90" fill="#fff" stroke-width="1.5" stroke-linejoin="miter"/>
<polygon points="264.80,853.50 268.80,861.30 260.80,861.30" fill="#fff" stroke-width="1.5" stroke-linejoin="miter"/>
<rect x="180.30" y="847.10" width="8.60" height="8.60" stroke="none" fill="#000"/>
<rect x="207.50" y="849.10" width="8.60" height="8.60" stroke="none" fill="#000"/>
<rect x="234.10" y="851.30" width="8.60" height="8.60" stroke="none" fill="#000"/>
<rect x="260.50" y="856.70" width="8.60" height="8.60" stroke="none" fill="#000"/>
<circle cx="184.60" cy="853.80" r="4.2" fill="#fff" stroke-width="1.5"/>
<circle cx="211.80" cy="850.00" r="4.2" fill="#fff" stroke-width="1.5"/>
<circle cx="238.40" cy="853.90" r="4.2" fill="#fff" stroke-width="1.5"/>
<circle cx="264.80" cy="855.30" r="4.2" fill="#fff" stroke-width="1.5"/>
</g>
</svg>
</body></html>
